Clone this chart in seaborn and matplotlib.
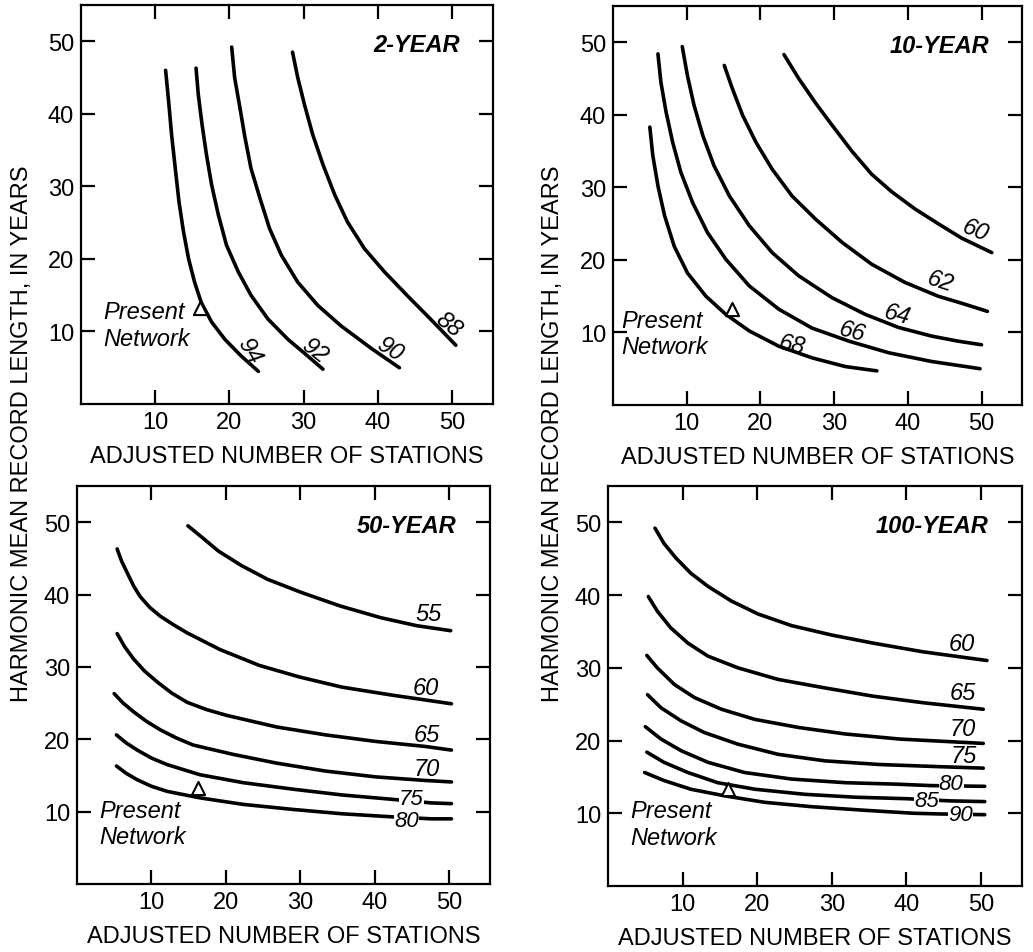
#!/usr/bin/env python3
import pandas as pd
import seaborn as sns
import matplotlib
matplotlib.use("Agg")
import matplotlib.pyplot as plt

# ---- data (x = adjusted stations, y = harmonic mean record length) ----

# 2-YEAR panel
P2_LABELS = ["94", "92", "90", "88"]
P2_X = [
    [11.4, 11.8, 12.2, 12.7, 13.2, 13.8, 14.5, 15.3, 16.2, 17.6, 19.4, 21.6, 23.9],
    [15.5, 15.8, 16.3, 16.9, 17.6, 18.5, 19.6, 21.2, 22.9, 25.2, 27.9, 30.1, 32.6],
    [20.3, 20.7, 21.4, 22.1, 22.9, 24.1, 25.4, 27.0, 29.2, 31.9, 35.0, 39.2, 42.9],
    [28.5, 29.2, 30.1, 31.2, 32.6, 34.2, 35.9, 38.2, 40.9, 44.0, 47.1, 50.5],
]
P2_Y = [
    [46.0, 41.8, 37.2, 32.5, 27.9, 23.8, 20.0, 16.8, 14.0, 11.3, 8.9, 6.6, 4.5],
    [46.3, 42.7, 38.6, 34.4, 30.2, 26.1, 21.9, 18.2, 15.0, 11.7, 8.9, 7.0, 4.8],
    [49.2, 45.0, 40.9, 36.7, 32.5, 28.4, 24.2, 20.5, 16.8, 13.6, 10.8, 7.6, 5.0],
    [48.5, 45.0, 41.3, 37.2, 33.0, 28.8, 25.1, 21.4, 18.2, 14.9, 11.7, 8.1],
]

# 10-YEAR panel
P10_LABELS = ["68", "66", "64", "62", "60"]
P10_X = [
    [5.0, 5.4, 6.1, 7.0, 8.3, 10.1, 12.6, 15.3, 18.5, 22.5, 27.0, 31.5, 35.8],
    [6.1, 6.5, 7.2, 8.1, 9.2, 10.8, 12.8, 15.3, 18.5, 22.5, 27.0, 32.0, 37.4, 43.2, 49.8],
    [9.4, 10.1, 11.0, 12.2, 13.7, 15.8, 18.5, 21.6, 25.2, 29.7, 34.2, 38.7, 43.2, 46.8, 50.0],
    [15.1, 16.2, 17.6, 19.4, 21.6, 24.3, 27.5, 31.1, 35.1, 39.6, 44.1, 47.7, 50.8],
    [23.2, 25.2, 27.5, 29.7, 32.4, 35.1, 37.8, 41.0, 44.1, 47.3, 51.4],
]
P10_Y = [
    [38.3, 34.4, 30.2, 26.1, 21.9, 18.2, 15.0, 12.5, 10.2, 8.1, 6.5, 5.3, 4.7],
    [48.4, 44.5, 40.4, 36.2, 32.1, 27.9, 23.8, 20.1, 16.4, 13.2, 10.6, 8.8, 7.2, 6.0, 5.0],
    [49.4, 45.4, 41.3, 37.1, 33.0, 28.8, 24.7, 21.0, 17.8, 14.8, 12.5, 10.7, 9.5, 8.8, 8.3],
    [46.8, 43.6, 39.9, 36.2, 32.5, 28.8, 25.6, 22.4, 19.4, 16.9, 15.0, 13.9, 12.9],
    [48.3, 45.0, 41.6, 38.6, 35.0, 31.8, 29.4, 27.0, 25.0, 23.0, 21.0],
]

# 50-YEAR panel
P50_LABELS = ["55", "60", "65", "70", "75", "80"]
P50_X = [
    [14.9, 16.8, 19.0, 22.1, 25.6, 30.1, 35.4, 40.8, 45.6, 50.2],
    [5.4, 6.0, 6.8, 7.6, 8.5, 9.8, 11.2, 13.0, 14.8, 19.2, 24.5, 29.9, 35.6, 42.3, 50.3],
    [5.4, 6.4, 7.6, 9.1, 10.8, 12.7, 14.8, 17.4, 20.1, 26.8, 33.4, 40.1, 46.8, 50.3],
    [5.0, 6.2, 7.6, 9.3, 11.2, 13.3, 15.6, 21.0, 26.8, 33.4, 40.1, 46.8, 50.3],
    [5.3, 6.6, 8.1, 10.0, 12.1, 16.5, 22.3, 29.0, 35.6, 42.3, 47.6, 50.3],
    [5.3, 6.6, 8.1, 10.0, 12.1, 16.5, 22.3, 29.0, 35.6, 41.9, 47.6, 50.3],
]
P50_Y = [
    [49.5, 47.9, 46.0, 44.0, 42.1, 40.3, 38.4, 36.8, 35.7, 35.0],
    [46.3, 44.6, 42.9, 41.2, 39.7, 38.2, 37.0, 35.8, 34.7, 32.4, 30.2, 28.6, 27.2, 26.1, 24.9],
    [34.6, 32.8, 31.1, 29.4, 27.9, 26.4, 25.1, 24.1, 23.3, 21.7, 20.6, 19.7, 19.0, 18.5],
    [26.3, 25.0, 23.8, 22.5, 21.3, 20.2, 19.2, 17.9, 16.7, 15.6, 14.8, 14.3, 14.1],
    [20.6, 19.5, 18.5, 17.4, 16.5, 15.1, 14.0, 13.1, 12.3, 11.7, 11.2, 11.1],
    [16.3, 15.3, 14.4, 13.5, 12.8, 11.9, 11.0, 10.3, 9.7, 9.3, 9.0, 9.0],
]

# 100-YEAR panel
P100_LABELS = ["60", "65", "70", "75", "80", "85", "90"]
P100_X = [
    [6.3, 7.5, 9.1, 11.1, 13.4, 16.5, 20.1, 24.6, 30.0, 35.5, 42.2, 50.8],
    [5.4, 6.6, 8.4, 10.7, 13.4, 17.4, 22.8, 28.7, 35.5, 42.2, 50.3],
    [5.2, 6.6, 8.9, 11.6, 15.2, 19.7, 25.5, 31.8, 39.1, 50.3],
    [5.3, 7.1, 9.8, 12.9, 17.4, 22.8, 29.1, 36.4, 44.5, 50.3],
    [5.0, 7.1, 9.8, 13.4, 18.3, 24.6, 31.8, 38.6, 43.3, 50.5],
    [5.2, 7.5, 10.7, 14.7, 19.7, 26.4, 33.2, 40.0, 45.8, 50.5],
    [4.9, 7.5, 11.1, 15.6, 21.0, 27.3, 34.5, 40.9, 44.5, 50.5],
]
P100_Y = [
    [49.2, 47.1, 45.1, 43.0, 41.2, 39.2, 37.4, 35.8, 34.5, 33.4, 32.2, 31.0],
    [39.8, 37.8, 35.5, 33.4, 31.6, 30.0, 28.4, 27.3, 26.1, 25.2, 24.3],
    [31.7, 30.0, 27.7, 25.9, 24.3, 22.9, 21.8, 20.9, 20.2, 19.6],
    [26.3, 24.5, 22.7, 21.1, 19.5, 18.1, 17.2, 16.7, 16.4, 16.2],
    [21.9, 20.2, 18.6, 17.0, 15.6, 14.7, 14.2, 14.0, 13.8, 13.7],
    [18.4, 17.0, 15.6, 14.2, 13.3, 12.6, 12.2, 12.0, 11.7, 11.6],
    [15.6, 14.5, 13.3, 12.4, 11.5, 10.9, 10.4, 10.0, 9.9, 9.8],
]

# present network (stations, record length) per panel
PRESENT = {"2-YEAR": (16.0, 13.2), "10-YEAR": (16.1, 13.2),
           "50-YEAR": (16.2, 13.3), "100-YEAR": (16.1, 13.3)}

FS = 17


def curves_frame(labels, xs, ys):
    rows = []
    for lab, x, y in zip(labels, xs, ys):
        for a, b in zip(x, y):
            rows.append({"stations": a, "years": b, "curve": lab})
    return pd.DataFrame(rows)


def draw_panel(ax, title, labels, xs, ys, label_spots, present_spots):
    df = curves_frame(labels, xs, ys)
    sns.lineplot(data=df, x="stations", y="years", hue="curve",
                 palette={lab: "black" for lab in labels}, sort=False,
                 estimator=None, legend=False, linewidth=2.6, ax=ax,
                 solid_capstyle="round", solid_joinstyle="round")
    for lab, (lx, ly, rot, boxed) in zip(labels, label_spots):
        kw = {}
        size = FS
        if boxed:
            # label sits on the line, breaking it like the original
            kw["bbox"] = dict(facecolor="white", edgecolor="none", pad=0.2)
            size = FS - 1
        ax.text(lx, ly, lab, fontsize=size, style="italic", ha="center",
                va="center", rotation=rot, zorder=5, **kw)
    px, py = PRESENT[title]
    pdf = pd.DataFrame({"stations": [px], "years": [py]})
    sns.scatterplot(data=pdf, x="stations", y="years", marker="^", s=90,
                    facecolor="white", edgecolor="black", linewidth=1.5,
                    ax=ax, zorder=6)
    (tx1, ty1), (tx2, ty2) = present_spots
    ax.text(tx1, ty1, "Present", fontsize=FS, style="italic", ha="left", va="center")
    ax.text(tx2, ty2, "Network", fontsize=FS, style="italic", ha="left", va="center")
    ax.text(51.0, 49.5, title, fontsize=FS, style="italic", fontweight="bold",
            ha="right", va="center")

    ax.set_xlim(0, 55.5)
    ax.set_ylim(0, 55)
    ax.set_xticks([10, 20, 30, 40, 50])
    ax.set_yticks([10, 20, 30, 40, 50])
    ax.tick_params(direction="in", length=10, width=1.6, top=True, right=True,
                   labelsize=FS, pad=5, colors="black")
    for sp in ax.spines.values():
        sp.set_linewidth(1.6)
        sp.set_color("black")
    ax.set_xlabel("ADJUSTED NUMBER OF STATIONS", fontsize=FS, labelpad=9)
    ax.set_ylabel("")


def main():
    sns.set_theme(style="ticks")
    plt.rcParams["font.family"] = ["Liberation Sans", "DejaVu Sans"]
    plt.rcParams["text.color"] = "black"
    plt.rcParams["axes.labelcolor"] = "black"

    fig = plt.figure(figsize=(10.33, 9.53), dpi=100)
    ax1 = fig.add_axes([0.0784, 0.575, 0.3988, 0.4187])
    ax2 = fig.add_axes([0.5934, 0.574, 0.396, 0.4187])
    ax3 = fig.add_axes([0.0745, 0.0714, 0.400, 0.4176])
    ax4 = fig.add_axes([0.5886, 0.0693, 0.4008, 0.4197])

    draw_panel(ax1, "2-YEAR", P2_LABELS, P2_X, P2_Y,
               [(22.7, 7.4, -60, False), (31.4, 7.4, -38, False),
                (41.6, 7.6, -32, False), (49.6, 11.0, -38, False)],
               [(3.0, 12.7), (3.0, 9.0)])
    draw_panel(ax2, "10-YEAR", P10_LABELS, P10_X, P10_Y,
               [(24.3, 8.3, -12, False), (32.4, 10.2, -15, False),
                (38.5, 12.5, -15, False), (44.4, 17.1, -18, False),
                (49.1, 24.2, -22, False)],
               [(1.1, 11.6), (1.1, 8.1)])
    draw_panel(ax3, "50-YEAR", P50_LABELS, P50_X, P50_Y,
               [(47.2, 37.4, 0, False), (46.8, 27.2, 0, False),
                (47.0, 20.6, 0, False), (47.0, 16.0, 0, False),
                (44.9, 11.8, 0, True), (44.3, 8.8, 0, True)],
               [(3.0, 10.1), (3.0, 6.6)])
    draw_panel(ax4, "100-YEAR", P100_LABELS, P100_X, P100_Y,
               [(47.4, 33.4, 0, False), (47.5, 26.6, 0, False),
                (47.6, 21.6, 0, False), (47.7, 18.0, 0, False),
                (46.0, 14.1, 0, True), (42.7, 11.8, 0, True),
                (47.2, 9.8, 0, True)],
               [(3.0, 10.4), (3.0, 6.7)])

    ylab = "HARMONIC MEAN RECORD LENGTH, IN YEARS"
    fig.text(0.021, 0.545, ylab, rotation=90, fontsize=FS, ha="center", va="center")
    fig.text(0.535, 0.545, ylab, rotation=90, fontsize=FS, ha="center", va="center")

    fig.savefig("out.png", dpi=100, facecolor="white")


if __name__ == "__main__":
    main()
